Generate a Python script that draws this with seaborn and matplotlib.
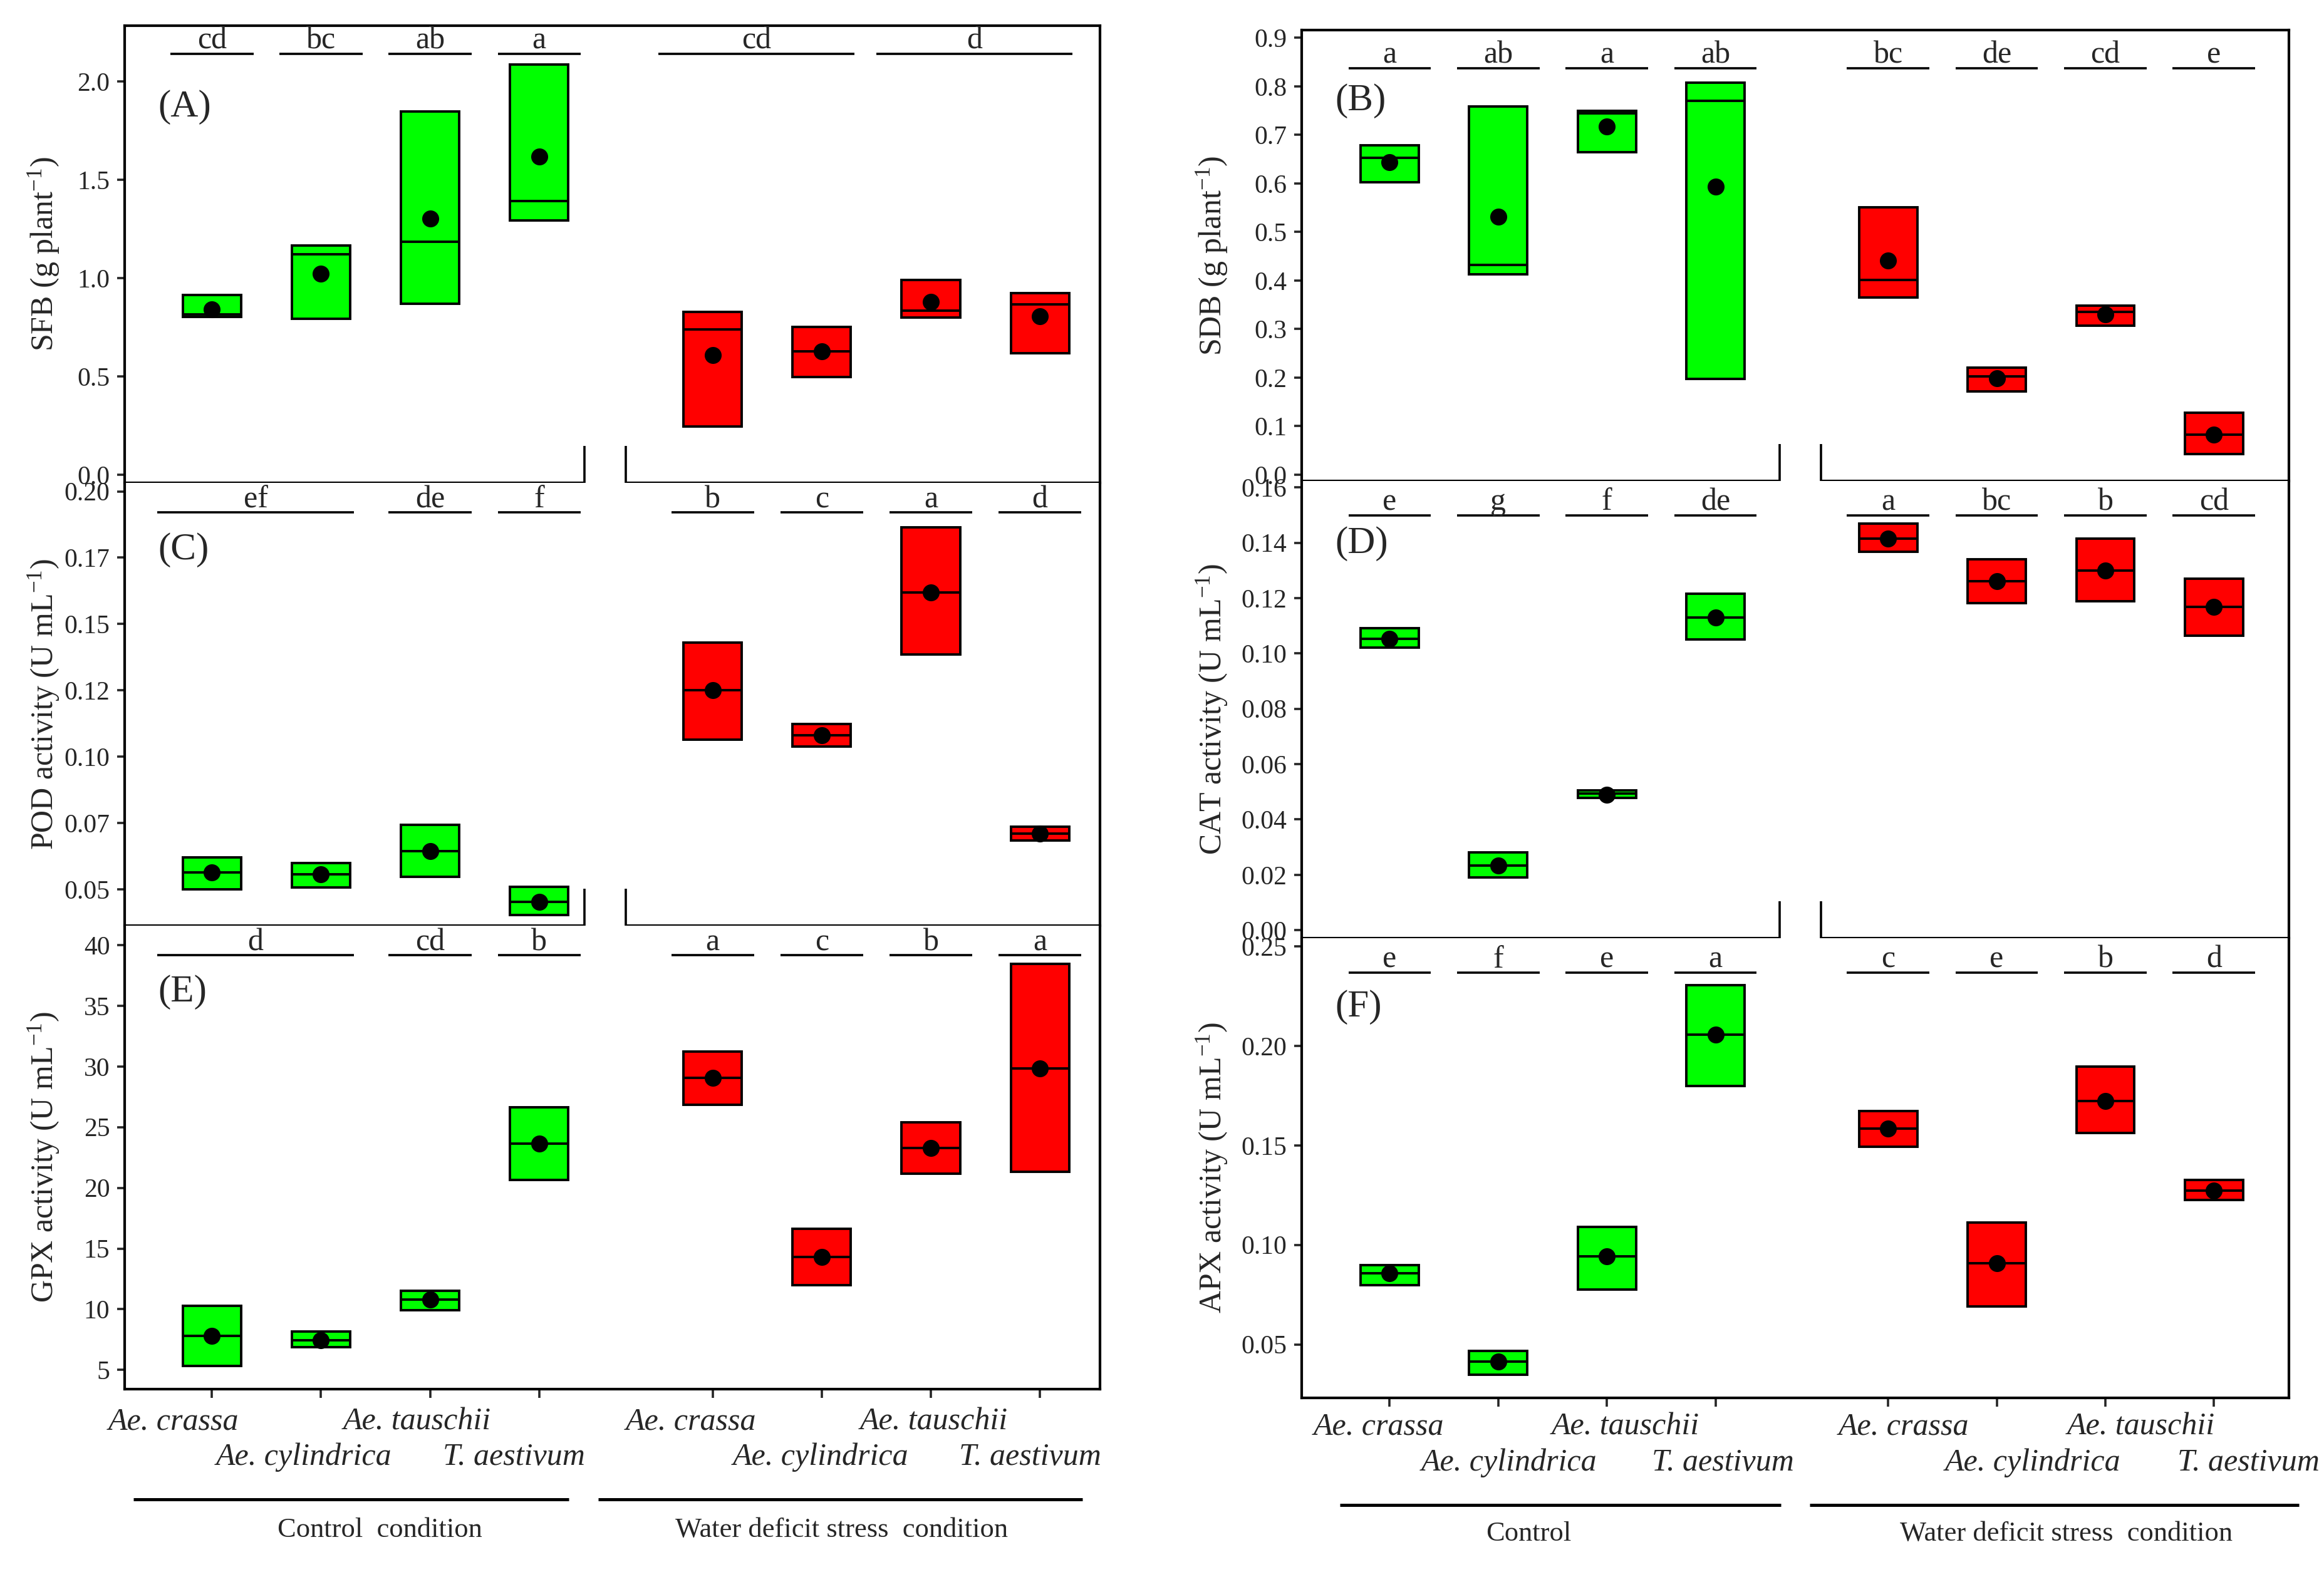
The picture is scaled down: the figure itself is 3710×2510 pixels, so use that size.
import numpy as np
import matplotlib
matplotlib.use("Agg")
import matplotlib.pyplot as plt
import matplotlib.transforms as mtrans
import seaborn as sns

# ---------------- data ----------------
species = ["Ae. crassa", "Ae. cylindrica", "Ae. tauschii", "T. aestivum"]
conditions = ["Control", "Water deficit"]
positions = [0, 1, 2, 3, 4.59, 5.59, 6.59, 7.59]
bar_colors = ["#00FF00"] * 4 + ["#FF0000"] * 4

sfb_min = [0.803, 0.795, 0.870, 1.295, 0.247, 0.496, 0.800, 0.618]
sfb_max = [0.916, 1.166, 1.849, 2.088, 0.828, 0.751, 0.990, 0.925]
sfb_median = [0.815, 1.122, 1.185, 1.393, 0.740, 0.629, 0.836, 0.868]
sfb_mean = [0.843, 1.023, 1.304, 1.620, 0.610, 0.629, 0.881, 0.805]
sfb_letters = ["cd", "bc", "ab", "a", "cd", "d"]
sfb_groups = [(0, 0), (1, 1), (2, 2), (3, 3), (4, 5), (6, 7)]

pod_min = [0.0499, 0.0507, 0.0547, 0.0403, 0.1063, 0.1039, 0.1386, 0.0684]
pod_max = [0.0621, 0.0599, 0.0744, 0.0509, 0.1429, 0.1123, 0.1864, 0.0735]
pod_median = [0.0564, 0.0556, 0.0645, 0.0453, 0.1250, 0.1081, 0.1620, 0.0710]
pod_mean = [0.0564, 0.0556, 0.0645, 0.0453, 0.1250, 0.1081, 0.1620, 0.0710]
pod_letters = ["ef", "de", "f", "b", "c", "a", "d"]
pod_groups = [(0, 1), (2, 2), (3, 3), (4, 4), (5, 5), (6, 6), (7, 7)]

gpx_min = [5.32, 6.90, 9.92, 20.63, 26.82, 12.00, 21.18, 21.34]
gpx_max = [10.26, 8.16, 11.53, 26.66, 31.21, 16.61, 25.42, 38.45]
gpx_median = [7.82, 7.47, 10.82, 23.63, 29.08, 14.32, 23.29, 29.82]
gpx_mean = [7.82, 7.47, 10.82, 23.63, 29.08, 14.32, 23.29, 29.82]
gpx_letters = ["d", "cd", "b", "a", "c", "b", "a"]
gpx_groups = [(0, 1), (2, 2), (3, 3), (4, 4), (5, 5), (6, 6), (7, 7)]

sdb_min = [0.602, 0.413, 0.664, 0.197, 0.365, 0.171, 0.307, 0.0425]
sdb_max = [0.679, 0.758, 0.750, 0.807, 0.551, 0.220, 0.348, 0.128]
sdb_median = [0.653, 0.432, 0.745, 0.770, 0.401, 0.202, 0.335, 0.083]
sdb_mean = [0.644, 0.532, 0.717, 0.594, 0.441, 0.198, 0.330, 0.083]
sdb_letters = ["a", "ab", "a", "ab", "bc", "de", "cd", "e"]
single_groups = [(i, i) for i in range(8)]

cat_min = [0.1020, 0.0191, 0.0478, 0.1051, 0.1367, 0.1181, 0.1189, 0.1065]
cat_max = [0.1092, 0.0280, 0.0505, 0.1215, 0.1470, 0.1339, 0.1415, 0.1270]
cat_median = [0.1052, 0.0233, 0.0493, 0.1129, 0.1414, 0.1260, 0.1300, 0.1168]
cat_mean = [0.1052, 0.0233, 0.0490, 0.1129, 0.1414, 0.1260, 0.1300, 0.1168]
cat_letters = ["e", "g", "f", "de", "a", "bc", "b", "cd"]

apx_min = [0.0798, 0.0346, 0.0777, 0.1797, 0.1494, 0.0691, 0.1562, 0.1227]
apx_max = [0.0898, 0.0467, 0.1090, 0.2306, 0.1671, 0.1112, 0.1897, 0.1327]
apx_median = [0.0856, 0.0414, 0.0942, 0.2057, 0.1584, 0.0907, 0.1723, 0.1274]
apx_mean = [0.0856, 0.0414, 0.0942, 0.2057, 0.1584, 0.0907, 0.1723, 0.1274]
apx_letters = ["e", "f", "e", "a", "c", "e", "b", "d"]

# ---------------- style ----------------
sns.set_style("ticks")
plt.rcParams["font.family"] = ["Liberation Serif", "DejaVu Serif"]
plt.rcParams["mathtext.fontset"] = "custom"
plt.rcParams["mathtext.rm"] = "Liberation Serif"
plt.rcParams["mathtext.it"] = "Liberation Serif:italic"
plt.rcParams["mathtext.bf"] = "Liberation Serif:bold"

W, H = 3710, 2510
fig = plt.figure(figsize=(W / 200, H / 200), dpi=200)
fig.patch.set_facecolor("white")

LW = 1.5
BOXW = 0.535


def fig_axes(x0, x1, y0, y1):
    return fig.add_axes([x0 / W, 1 - y1 / H, (x1 - x0) / W, (y1 - y0) / H])


left_x = (199, 1756)
right_x = (2078, 3654)
axA = fig_axes(*left_x, 41, 771)
axC = fig_axes(*left_x, 771, 1478)
axE = fig_axes(*left_x, 1478, 2218)
axB = fig_axes(*right_x, 48, 768)
axD = fig_axes(*right_x, 768, 1498)
axF = fig_axes(*right_x, 1498, 2232)

panels = [
    dict(ax=axA, lo=sfb_min, hi=sfb_max, med=sfb_median, mean=sfb_mean,
         letters=sfb_letters, groups=sfb_groups, ylim=(-0.041, 2.285),
         yticks=[0.0, 0.5, 1.0, 1.5, 2.0], ylabels=["0.0", "0.5", "1.0", "1.5", "2.0"],
         ylabel="SFB (g plant$^{-1}$)", tag="(A)", tagy=0.822, liney=0.938,
         xlim=(-0.80, 8.14), col="L"),
    dict(ax=axC, lo=pod_min, hi=pod_max, med=pod_median, mean=pod_mean,
         letters=pod_letters, groups=pod_groups, ylim=(0.0363, 0.2032),
         yticks=[0.05, 0.075, 0.10, 0.125, 0.15, 0.175, 0.20],
         ylabels=["0.05", "0.07", "0.10", "0.12", "0.15", "0.17", "0.20"],
         ylabel="POD activity (U mL$^{-1}$)", tag="(C)", tagy=0.849, liney=0.933,
         xlim=(-0.80, 8.14), col="L"),
    dict(ax=axE, lo=gpx_min, hi=gpx_max, med=gpx_median, mean=gpx_mean,
         letters=gpx_letters, groups=gpx_groups, ylim=(3.42, 41.6),
         yticks=[5, 10, 15, 20, 25, 30, 35, 40],
         ylabels=["5", "10", "15", "20", "25", "30", "35", "40"],
         ylabel="GPX activity (U mL$^{-1}$)", tag="(E)", tagy=0.857, liney=0.936,
         xlim=(-0.80, 8.14), col="L"),
    dict(ax=axB, lo=sdb_min, hi=sdb_max, med=sdb_median, mean=sdb_mean,
         letters=sdb_letters, groups=single_groups, ylim=(-0.013, 0.916),
         yticks=[0.0, 0.1, 0.2, 0.3, 0.4, 0.5, 0.6, 0.7, 0.8, 0.9],
         ylabels=["0.0", "0.1", "0.2", "0.3", "0.4", "0.5", "0.6", "0.7", "0.8", "0.9"],
         ylabel="SDB (g plant$^{-1}$)", tag="(B)", tagy=0.843, liney=0.915,
         xlim=(-0.81, 8.28), col="R"),
    dict(ax=axD, lo=cat_min, hi=cat_max, med=cat_median, mean=cat_mean,
         letters=cat_letters, groups=single_groups, ylim=(-0.0029, 0.1623),
         yticks=[0.0, 0.02, 0.04, 0.06, 0.08, 0.10, 0.12, 0.14, 0.16],
         ylabels=["0.00", "0.02", "0.04", "0.06", "0.08", "0.10", "0.12", "0.14", "0.16"],
         ylabel="CAT activity (U mL$^{-1}$)", tag="(D)", tagy=0.863, liney=0.925,
         xlim=(-0.81, 8.28), col="R"),
    dict(ax=axF, lo=apx_min, hi=apx_max, med=apx_median, mean=apx_mean,
         letters=apx_letters, groups=single_groups, ylim=(0.0231, 0.2541),
         yticks=[0.05, 0.10, 0.15, 0.20, 0.25],
         ylabels=["0.05", "0.10", "0.15", "0.20", "0.25"],
         ylabel="APX activity (U mL$^{-1}$)", tag="(F)", tagy=0.85, liney=0.925,
         xlim=(-0.81, 8.28), col="R"),
]

pos = np.array(positions)
for p in panels:
    ax = p["ax"]
    lo = np.array(p["lo"]); hi = np.array(p["hi"])
    ax.bar(pos, hi - lo, bottom=lo, width=BOXW, color=bar_colors,
           edgecolor="black", linewidth=1.4, zorder=3)
    ax.hlines(p["med"], pos - BOXW / 2, pos + BOXW / 2, colors="black",
              linewidth=1.4, zorder=4)
    sns.scatterplot(x=pos, y=p["mean"], ax=ax, color="black", s=95,
                    linewidth=0, zorder=5, legend=False)
    ax.set_xlim(*p["xlim"])
    ax.set_ylim(*p["ylim"])
    ax.set_yticks(p["yticks"])
    ax.set_yticklabels(p["ylabels"])
    ax.tick_params(axis="y", direction="out", length=4.5, width=1.3,
                   labelsize=15, pad=4, left=True)
    ax.set_ylabel(p["ylabel"], fontsize=18)
    ax.yaxis.set_label_coords(-0.065 if p["col"] == "L" else -0.073, 0.5)
    for s in ax.spines.values():
        s.set_linewidth(LW)
        s.set_color("black")
    ax.text(0.034, p["tagy"], p["tag"], transform=ax.transAxes, fontsize=22,
            ha="left", va="center")
    trans = mtrans.blended_transform_factory(ax.transData, ax.transAxes)
    for lab, (i0, i1) in zip(p["letters"], p["groups"]):
        if i0 == i1:
            xa, xb = pos[i0] - 0.38, pos[i1] + 0.38
        else:
            xa, xb = pos[i0] - 0.5, pos[i1] + 0.3
        ax.plot([xa, xb], [p["liney"]] * 2, color="black", lw=1.3,
                transform=trans, clip_on=False, solid_capstyle="butt")
        ax.annotate(lab, xy=((xa + xb) / 2, p["liney"]), xycoords=trans,
                    xytext=(0, 3), textcoords="offset points",
                    ha="center", va="baseline", fontsize=18)
    ax.set_facecolor("white")

# x axis handling and panel breaks
breaks = {"L": (3.415, 3.794), "R": (3.59, 3.97)}
for upper, lower, col in [(axA, axC, "L"), (axC, axE, "L"),
                          (axB, axD, "R"), (axD, axF, "R")]:
    upper.spines["bottom"].set_visible(False)
    lower.spines["top"].set_visible(False)
    upper.tick_params(axis="x", bottom=False, labelbottom=False)
    xb1, xb2 = breaks[col]
    x0, x1 = upper.get_xlim()
    tr = mtrans.blended_transform_factory(upper.transData, upper.transAxes)
    upper.plot([x0, xb1], [0, 0], color="black", lw=LW, transform=tr,
               clip_on=False, solid_capstyle="butt", zorder=6)
    upper.plot([xb2, x1], [0, 0], color="black", lw=LW, transform=tr,
               clip_on=False, solid_capstyle="butt", zorder=6)
    h_up = upper.get_position().height * H
    for xb in (xb1, xb2):
        upper.plot([xb, xb], [-66 / h_up, 59 / h_up], color="black", lw=1.3,
                   transform=tr, clip_on=False, solid_capstyle="butt", zorder=6)

for ax in (axA, axB):
    ax.tick_params(axis="x", bottom=False, labelbottom=False)

# bottom axes: ticks, staggered species names and condition brackets
name_shift_left = [-0.35, -0.16, -0.12, -0.23, -0.20, -0.01, 0.03, -0.09]
name_shift_right = [-0.10, 0.10, 0.17, 0.07, 0.14, 0.33, 0.33, 0.32]
bottom_cfg = [
    (axE, name_shift_left, (-0.070, -0.147), -0.238, -0.304,
     [(-0.72, 3.27), (3.54, 7.98)], ["Control  condition", "Water deficit stress  condition"],
     [1.54, 5.77]),
    (axF, name_shift_right, (-0.063, -0.142), -0.233, -0.296,
     [(-0.46, 3.60), (3.87, 8.37)], ["Control", "Water deficit stress  condition"],
     [1.28, 6.23]),
]
for ax, shifts, rows, liney, texty, spans, glabels, gx in bottom_cfg:
    ax.set_xticks(positions)
    ax.set_xticklabels([""] * len(positions))
    ax.tick_params(axis="x", direction="out", length=5, width=1.3)
    tr = mtrans.blended_transform_factory(ax.transData, ax.transAxes)
    names = species * len(conditions)
    for k, (xp, name) in enumerate(zip(positions, names)):
        ax.text(xp + shifts[k], rows[k % 2], name, transform=tr, fontsize=18,
                fontstyle="italic", ha="center", va="center")
    for (xa, xb), lab, xc in zip(spans, glabels, gx):
        ax.plot([xa, xb], [liney, liney], color="black", lw=1.8, transform=tr,
                clip_on=False, solid_capstyle="butt")
        ax.text(xc, texty, lab, transform=tr, fontsize=16, ha="center", va="center")

fig.savefig("out.png", dpi=200, facecolor="white")
